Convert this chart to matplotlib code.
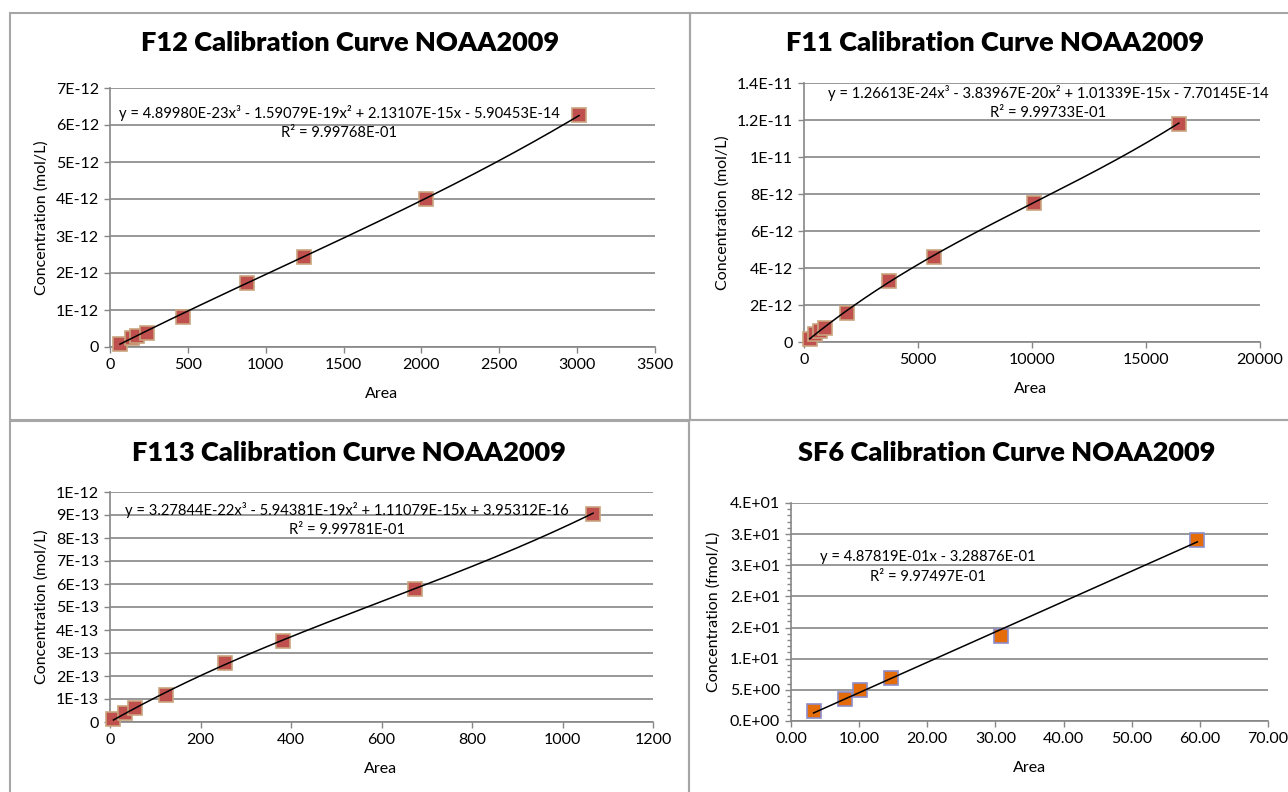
import numpy as np
import matplotlib
matplotlib.use("Agg")
import matplotlib.pyplot as plt
from matplotlib.ticker import FixedLocator, FixedFormatter, MultipleLocator

plt.rcParams["font.family"] = ["Lato", "DejaVu Sans"]

# =========================================
# DATA
# =========================================
f12_area = [64, 139, 171, 236, 467, 880, 1246, 2030, 3012]
f12_conc = [0.07e-12, 0.24e-12, 0.30e-12, 0.39e-12, 0.81e-12, 1.74e-12, 2.44e-12, 4.00e-12, 6.27e-12]
f12_coef = [4.89980E-23, -1.59079E-19, 2.13107E-15, -5.90453E-14]
f12_eq = "y = 4.89980E-23x³ - 1.59079E-19x² + 2.13107E-15x - 5.90453E-14"
f12_r2 = "R² = 9.99768E-01"

f11_area = [250, 500, 718, 937, 1880, 3709, 5681, 10109, 16441]
f11_conc = [0.15e-12, 0.45e-12, 0.62e-12, 0.78e-12, 1.56e-12, 3.30e-12, 4.59e-12, 7.53e-12, 11.80e-12]
f11_coef = [1.26613E-24, -3.83967E-20, 1.01339E-15, -7.70145E-14]
f11_eq = "y = 1.26613E-24x³ - 3.83967E-20x² + 1.01339E-15x - 7.70145E-14"
f11_r2 = "R² = 9.99733E-01"

f113_area = [7.5, 33, 56, 123, 255, 382.5, 674.5, 1067.6]
f113_conc = [0.13e-13, 0.40e-13, 0.59e-13, 1.19e-13, 2.55e-13, 3.54e-13, 5.78e-13, 9.03e-13]
f113_coef = [3.27844E-22, -5.94381E-19, 1.11079E-15, 3.95312E-16]
f113_eq = "y = 3.27844E-22x³ - 5.94381E-19x² + 1.11079E-15x + 3.95312E-16"
f113_r2 = "R² = 9.99781E-01"

sf6_area = [3.31, 7.96, 10.14, 14.63, 30.88, 59.63]
sf6_conc = [1.55, 3.53, 4.92, 6.90, 13.59, 29.0]
sf6_coef = [4.87819E-01, -3.28876E-01]
sf6_eq = "y = 4.87819E-01x - 3.28876E-01"
sf6_r2 = "R² = 9.97497E-01"

f12_yticks = ["0", "1E-12", "2E-12", "3E-12", "4E-12", "5E-12", "6E-12", "7E-12"]
f11_yticks = ["0", "2E-12", "4E-12", "6E-12", "8E-12", "1E-11", "1.2E-11", "1.4E-11"]
f113_yticks = ["0", "1E-13", "2E-13", "3E-13", "4E-13", "5E-13", "6E-13", "7E-13",
               "8E-13", "9E-13", "1E-12"]
sf6_yticks = ["0.E+00", "5.E+00", "1.E+01", "2.E+01", "2.E+01", "3.E+01", "3.E+01", "4.E+01"]
sf6_xticks = ["0.00", "10.00", "20.00", "30.00", "40.00", "50.00", "60.00", "70.00"]

# =========================================
# FIGURE
# =========================================
W, H = 1288, 792
fig = plt.figure(figsize=(W / 100, H / 100), dpi=100)

GRAY = "#868686"


def px_rect(x0, y0, x1, y1):
    return [x0 / W, 1 - y1 / H, (x1 - x0) / W, (y1 - y0) / H]


def ftext(x, y, s, **kw):
    fig.text(x / W, 1 - y / H, s, ha="center", va="center", **kw)


def panel(box, title, title_xy, xs, ys, coef, eq, r2, eq_xy, ylab,
          xmax, xstep, ymax, ystep, yticklabels, xticklabels=None,
          fill="#C0504D", edge="#C9A47E", xlab_xy=None, ylab_x=None):
    ax = fig.add_axes(px_rect(*box))
    ax.set_xlim(0, xmax)
    ax.set_ylim(0, ymax)

    yt = np.arange(len(yticklabels)) * ystep
    ax.yaxis.set_major_locator(FixedLocator(yt))
    ax.yaxis.set_major_formatter(FixedFormatter(yticklabels))
    xt = np.arange(0, xmax + xstep / 2, xstep)
    ax.xaxis.set_major_locator(FixedLocator(xt))
    if xticklabels is not None:
        ax.xaxis.set_major_formatter(FixedFormatter(xticklabels))
    else:
        ax.xaxis.set_major_formatter(FixedFormatter([f"{v:g}" for v in xt]))

    for s in ["top", "right"]:
        ax.spines[s].set_visible(False)
    for s in ["left", "bottom"]:
        ax.spines[s].set_color(GRAY)
        ax.spines[s].set_linewidth(1.2)
    ax.grid(axis="y", color=GRAY, linewidth=1.2)
    ax.set_axisbelow(True)
    ax.tick_params(direction="out", length=4, width=1, color=GRAY,
                   labelsize=11.5, pad=4)

    ax.plot(xs, ys, "s", markersize=10, markerfacecolor=fill,
            markeredgecolor=edge, markeredgewidth=1.2, zorder=3,
            clip_on=False)
    xf = np.linspace(min(xs), max(xs), 300)
    ax.plot(xf, np.polyval(coef, xf), color="black", linewidth=1.1,
            zorder=4)

    ftext(*title_xy, title, fontsize=19.5, fontweight="heavy")
    ftext(eq_xy[0], eq_xy[1], eq, fontsize=10.6)
    ftext(eq_xy[0], eq_xy[1] + 20, r2, fontsize=10.6)
    ftext(*xlab_xy, "Area", fontsize=11.5)
    ftext(ylab_x, (box[1] + box[3]) / 2, ylab, fontsize=11.5, rotation=90)
    return ax


panel((110, 88, 655, 347), "F12 Calibration Curve NOAA2009", (350, 43),
      f12_area, f12_conc, f12_coef, f12_eq, f12_r2, (339, 113),
      "Concentration (mol/L)", 3500, 500, 7e-12, 1e-12, f12_yticks,
      xlab_xy=(382, 394), ylab_x=42)

panel((804, 83, 1260, 342), "F11 Calibration Curve NOAA2009", (995, 43),
      f11_area, f11_conc, f11_coef, f11_eq, f11_r2, (1048, 93),
      "Concentration (mol/L)", 20000, 5000, 1.4e-11, 2e-12, f11_yticks,
      xlab_xy=(1031, 389), ylab_x=723)

panel((110, 492, 653, 722), "F113 Calibration Curve NOAA2009", (349, 453),
      f113_area, f113_conc, f113_coef, f113_eq, f113_r2, (347, 510),
      "Concentration (mol/L)", 1200, 200, 1e-12, 1e-13, f113_yticks,
      xlab_xy=(381, 769), ylab_x=42)

ax4 = panel((791, 503, 1268, 721), "SF6 Calibration Curve NOAA2009", (1007, 453),
            sf6_area, sf6_conc, sf6_coef, sf6_eq, sf6_r2, (928, 557),
            "Concentration (fmol/L)", 70, 10, 35, 5, sf6_yticks,
            xticklabels=sf6_xticks, fill="#E46C0A", edge="#8C8CC8",
            xlab_xy=(1030, 768), ylab_x=714)
ax4.yaxis.set_minor_locator(MultipleLocator(1))
ax4.tick_params(axis="y", which="minor", direction="out", length=3,
                width=1, color=GRAY)

# chart borders
for (x0, y0, x1, y1) in [(9.5, 12.5, 690, 420), (690, 12.5, 1290, 420),
                         (9.5, 421, 689, 795), (689, 420, 1290, 795)]:
    fig.add_artist(plt.Rectangle((x0 / W, 1 - y1 / H), (x1 - x0) / W,
                                 (y1 - y0) / H, fill=False, edgecolor="#A6A6A6",
                                 linewidth=1.5, transform=fig.transFigure))

fig.savefig("out.png", dpi=100)
